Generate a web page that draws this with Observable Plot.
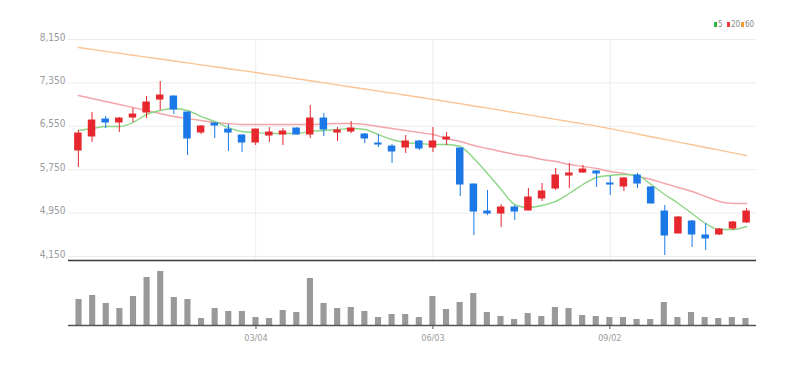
<!DOCTYPE html>
<html><head><meta charset="utf-8">
<script src="https://cdn.jsdelivr.net/npm/d3@7"></script>
<script src="https://cdn.jsdelivr.net/npm/@observablehq/plot@0.6"></script>
<style>
body{margin:0;background:#fff;}
#wrap{position:relative;width:806px;height:365px;font-family:"Liberation Sans Narrow","DejaVu Sans Condensed",sans-serif;}
#wrap svg{display:block;}
.lg{position:absolute;top:20px;font-size:8px;line-height:9px;color:#888;white-space:nowrap;}
.lg i{display:inline-block;width:3px;height:5px;margin-right:1px;vertical-align:0px;}
</style></head><body><div id="wrap"></div>
<script>
const dates = ["2023-12-04","2023-12-11","2023-12-18","2023-12-25","2024-01-01","2024-01-08","2024-01-15","2024-01-22","2024-01-29","2024-02-05","2024-02-12","2024-02-19","2024-02-26","2024-03-04","2024-03-11","2024-03-18","2024-03-25","2024-04-01","2024-04-08","2024-04-15","2024-04-22","2024-04-29","2024-05-06","2024-05-13","2024-05-20","2024-05-27","2024-06-03","2024-06-10","2024-06-17","2024-06-24","2024-07-01","2024-07-08","2024-07-15","2024-07-22","2024-07-29","2024-08-05","2024-08-12","2024-08-19","2024-08-26","2024-09-02","2024-09-09","2024-09-16","2024-09-23","2024-09-30","2024-10-07","2024-10-14","2024-10-21","2024-10-28","2024-11-04","2024-11-11"];
const open  = [6104,6362,6675,6620,6712,6804,7043,7099,6804,6435,6601,6490,6380,6251,6380,6398,6509,6398,6693,6435,6454,6398,6233,6177,6159,6270,6159,6306,6140,5477,4979,4942,5053,4998,5219,5403,5643,5698,5717,5495,5440,5643,5422,4979,4574,4795,4537,4555,4666,4777];
const high  = [6472,6804,6730,6712,6878,7099,7375,7110,6810,6564,6620,6583,6390,6500,6527,6509,6520,6933,6785,6527,6638,6417,6398,6214,6380,6288,6527,6435,6150,5480,5366,5108,5090,5403,5495,5772,5864,5827,5725,5624,5606,5680,5440,5090,4887,4813,4758,4666,4795,5035];
const low   = [5790,6251,6509,6435,6620,6693,6841,6767,6011,6398,6325,6085,6067,6196,6251,6196,6390,6325,6362,6270,6417,6233,6159,5864,6048,6104,6067,6196,5256,4537,4906,4684,4813,4990,5164,5366,5403,5680,5422,5274,5348,5403,5120,4168,4570,4316,4260,4537,4629,4758];
const close = [6417,6656,6620,6693,6767,6988,7117,6859,6325,6546,6564,6435,6251,6490,6435,6454,6398,6693,6490,6472,6509,6325,6214,6085,6270,6140,6270,6343,5477,4979,4942,5053,4979,5237,5348,5643,5680,5753,5680,5477,5588,5495,5127,4537,4869,4555,4482,4648,4777,4979];
const volume = [260,300,220,170,290,480,540,280,260,70,170,140,140,80,70,150,130,470,220,170,180,140,80,110,110,80,290,160,230,320,130,90,60,120,90,180,170,100,90,80,80,60,60,230,80,130,80,70,80,70];
const ma5  = [6472,6509,6546,6546,6620,6767,6841,6878,6841,6730,6638,6527,6454,6435,6417,6417,6417,6454,6472,6490,6509,6490,6398,6306,6251,6233,6214,6214,6177,5956,5680,5385,5108,5053,5090,5164,5311,5477,5606,5643,5661,5643,5477,5293,5127,4942,4758,4648,4648,4703];
const ma20 = [7117,7062,7007,6951,6896,6841,6785,6730,6693,6656,6620,6601,6583,6583,6583,6583,6583,6583,6592,6601,6601,6583,6546,6509,6472,6435,6398,6325,6270,6196,6140,6085,6030,5993,5938,5901,5846,5809,5772,5717,5680,5624,5569,5495,5422,5348,5256,5164,5127,5127];
const ma60 = [8002,7967,7931,7896,7860,7825,7790,7754,7719,7683,7648,7612,7577,7541,7503,7465,7427,7389,7351,7313,7275,7237,7199,7161,7123,7085,7047,7008,6967,6925,6884,6843,6801,6760,6719,6677,6636,6595,6554,6507,6457,6408,6358,6309,6259,6210,6160,6111,6061,6011];
const yTicks = [4150,4950,5750,6550,7350,8150];
const xTickDates = ["2024-03-04","2024-06-03","2024-09-02"];
const legendItems = [{label:"5",color:"#2fb344"},{label:"20",color:"#ef3b3b"},{label:"60",color:"#f49a32"}];

const RED = "#e6272d", BLUE = "#1b78e6";
const rows = dates.map((d,i)=>({date:d, open:open[i], high:high[i], low:low[i], close:close[i], volume:volume[i], ma5:ma5[i], ma20:ma20[i], ma60:ma60[i]}));
const col = d => d.close >= d.open ? RED : BLUE;
const font = '"Liberation Sans Narrow","DejaVu Sans Condensed",sans-serif';

const price = Plot.plot({
  width:806, height:262, marginTop:39, marginBottom:2, marginLeft:68, marginRight:50,
  style:{fontFamily:font, fontSize:"10px", background:"white", overflow:"visible"},
  x:{type:"band", domain:dates, padding:0.45, axis:null},
  y:{domain:[4076,8150], axis:null},
  marks:[
    Plot.gridY(yTicks, {stroke:"#ececec", strokeOpacity:1}),
    Plot.gridX(xTickDates, {stroke:"#ececec", strokeOpacity:1}),
    Plot.axisY(yTicks, {tickSize:0, tickPadding:3, tickFormat:d3.format(","), fill:"#9a9a9a", fontSize:10, dy:-2, label:null}),
    Plot.lineY(rows, {x:"date", y:"ma60", stroke:"#f9c594", strokeWidth:1.4, curve:"monotone-x"}),
    Plot.lineY(rows, {x:"date", y:"ma20", stroke:"#f5a4a8", strokeWidth:1.4, curve:"monotone-x"}),
    Plot.lineY(rows, {x:"date", y:"ma5", stroke:"#8cd686", strokeWidth:1.4, curve:"monotone-x"}),
    Plot.ruleX(rows, {x:"date", y1:"low", y2:"high", stroke:col, strokeWidth:1}),
    Plot.barY(rows, {x:"date", y1:"open", y2:"close", fill:col, insetTop:-0.5, insetBottom:-0.5}),
    Plot.ruleY([4076], {stroke:"#3a3a3a", strokeWidth:1.6})
  ]
});

const vol = Plot.plot({
  width:806, height:103, marginTop:3, marginBottom:40, marginLeft:68, marginRight:50,
  style:{fontFamily:font, fontSize:"9px", background:"white"},
  x:{type:"band", domain:dates, padding:0.55, axis:null},
  y:{domain:[0,600], axis:null},
  marks:[
    Plot.barY(rows, {x:"date", y:"volume", fill:"#999999"}),
    Plot.ruleY([0], {stroke:"#555", strokeWidth:1.4}),
    Plot.axisX(xTickDates, {tickSize:4, tickPadding:5, stroke:"#555", fill:"#9a9a9a", fontSize:9, tickFormat:d=>d.slice(5).replace("-","/"), label:null})
  ]
});

const wrap = document.getElementById("wrap");
wrap.appendChild(price);
wrap.appendChild(vol);
const lx = [714, 727, 741];
legendItems.forEach((it,i)=>{
  const s = document.createElement("span");
  s.className = "lg";
  s.style.left = lx[i]+"px";
  s.innerHTML = `<i style="background:${it.color}"></i>${it.label}`;
  wrap.appendChild(s);
});
</script></body></html>
